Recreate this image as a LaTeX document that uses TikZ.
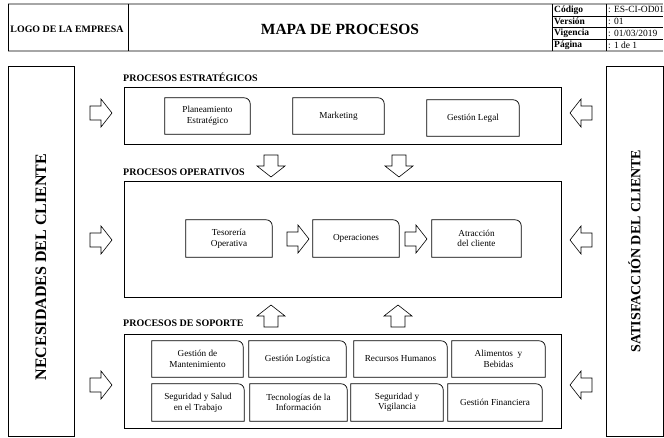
\documentclass[tikz,border=0pt]{standalone}
\usepackage{fontspec}
\setmainfont{Liberation Serif}
\usepackage{tikz}
\newcommand{\procfont}{\fontsize{9.2}{10.6}\selectfont}
\tikzset{
proc/.style = {minimum width=#1, minimum height=36pt, inner sep=1pt,
               align=center, font=\procfont,
               append after command={\pgfextra{%
                 \draw[line width=0.7pt] (\tikzlastnode.south west) -- (\tikzlastnode.north west)
                   -- ([xshift=-6pt]\tikzlastnode.north east)
                   arc[start angle=90, end angle=0, radius=6pt]
                   -- (\tikzlastnode.south east) -- cycle;}}},
proc/.default = 90pt % width of a process box
}
\tikzset{
groupbox/.style = {draw=black, line width=0.8pt, minimum width=437pt, minimum height=#1},
seclabel/.style = {anchor=west, inner sep=0pt, font=\fontsize{10}{11}\selectfont\bfseries},
cell/.style = {anchor=west, inner sep=0pt, font=\fontsize{9.5}{10}\selectfont}
}
\tikzset{
blockarrow/.pic = {\draw[line width=0.6pt, fill=white]
    (-11,-7) -- (0,-7) -- (0,-14) -- (11,0) -- (0,14) -- (0,7) -- (-11,7) -- cycle;}
}

\begin{document}
\begin{tikzpicture}[x=1pt, y=-1pt]
    \useasboundingbox (0,0) rectangle (664,438);

    % header
    \draw[line width=1.6pt, gray!70] (8,4) -- (663,4);
    \draw[line width=1.6pt, gray!70] (8,51) -- (663,51);
    \draw (8,4) -- (8,51);
    \draw (128,4) -- (128,51);
    \draw (552,4) -- (552,51);
    \draw (606,4) -- (606,51);
    \draw (552,15.75) -- (663,15.75);
    \draw (552,27.5) -- (663,27.5);
    \draw (552,39.25) -- (663,39.25);

    \node[font=\fontsize{9.9}{10}\selectfont\bfseries] (logoText) at (67,29) {LOGO DE LA EMPRESA};
    \node[font=\fontsize{15.5}{16}\selectfont\bfseries] (mapTitle) at (340,29) {MAPA DE PROCESOS};

    \node[cell, font=\fontsize{9.5}{10}\selectfont\bfseries] (codeLbl) at (554,9.9) {Código};
    \node[cell, font=\fontsize{9.5}{10}\selectfont\bfseries] (versLbl) at (554,21.6) {Versión};
    \node[cell, font=\fontsize{9.5}{10}\selectfont\bfseries] (vigLbl) at (554,33.4) {Vigencia};
    \node[cell, font=\fontsize{9.5}{10}\selectfont\bfseries] (pagLbl) at (554,45.1) {Página};
    \node[cell] (codeVal) at (608,9.9) {: ES-CI-OD01};
    \node[cell] (versVal) at (608,21.6) {: 01};
    \node[cell] (vigVal) at (608,33.4) {: 01/03/2019};
    \node[cell] (pagVal) at (608,45.1) {: 1 de 1};

    % client columns
    \node[draw, line width=0.8pt, rotate=90, minimum width=370pt, minimum height=66pt] (needBox) at (41,251) {};
    \node[rotate=90, font=\fontsize{16}{17}\selectfont\bfseries] (needText) at (41,267) {NECESIDADES DEL CLIENTE};
    \node[draw, line width=0.8pt, rotate=90, minimum width=370pt, minimum height=57pt,
          font=\fontsize{14}{15}\selectfont\bfseries] (satBox) at (634.5,251) {SATISFACCIÓN DEL CLIENTE};

    % strategic
    \node[seclabel] (estLabel) at (123,77) {PROCESOS ESTRATÉGICOS};
    \node[groupbox=57pt] (estBox) at (342.5,115.5) {};
    \node[proc=85pt] (planBox) at (207.5,116) {Planeamiento\\Estratégico};
    \node[proc=91pt] (mktBox) at (338.5,116) {Marketing};
    \node[proc=92pt] (legalBox) at (473,118) {Gestión Legal};

    \pic[rotate=-90] at (271,166) {blockarrow};
    \pic[rotate=-90] at (399,166) {blockarrow};

    % operative
    \node[seclabel] (opLabel) at (123,172) {PROCESOS OPERATIVOS};
    \node[groupbox=116pt] (opBox) at (342.5,239) {};
    \node[proc=86pt, minimum height=37pt] (tesBox) at (229,238.5) {Tesorería\\Operativa};
    \node[proc=86pt, minimum height=37pt] (operBox) at (356,238.5) {Operaciones};
    \node[proc=89pt, minimum height=37pt] (atrBox) at (476.5,238.5) {Atracción\\del cliente};
    \pic at (298,239) {blockarrow};
    \pic at (416,239) {blockarrow};

    \pic[rotate=90] at (271,316) {blockarrow};
    \pic[rotate=90] at (398,316) {blockarrow};

    % support
    \node[seclabel] (supLabel) at (123,323) {PROCESOS DE SOPORTE};
    \node[groupbox=94pt] (supBox) at (342.5,381) {};
    \node[proc=91pt] (mantBox) at (197.5,359) {Gestión de\\Mantenimiento};
    \node[proc=97pt] (logBox) at (297.5,359) {Gestión Logística};
    \node[proc=93pt] (rrhhBox) at (400.5,359) {Recursos Humanos};
    \node[proc=93pt] (alimBox) at (498.5,359) {Alimentos\ \ y\\Bebidas};
    \node[proc=92pt, minimum height=37pt] (sstBox) at (198,402.5) {Seguridad y Salud\\en el Trabajo};
    \node[proc=97pt, minimum height=37pt] (ticBox) at (298.5,402.5) {Tecnologías de la\\Información};
    \node[proc=92pt, minimum height=37pt] (vigiBox) at (397,402.5) {Seguridad y\\Vigilancia};
    \node[proc=94pt, minimum height=37pt] (finBox) at (495,402.5) {Gestión Financiera};

    % side arrows
    \pic at (101,113) {blockarrow};
    \pic at (101,240) {blockarrow};
    \pic at (101,385) {blockarrow};
    \pic[rotate=180] at (581,113) {blockarrow};
    \pic[rotate=180] at (581,240) {blockarrow};
    \pic[rotate=180] at (581,385) {blockarrow};
  \end{tikzpicture}
\end{document}
